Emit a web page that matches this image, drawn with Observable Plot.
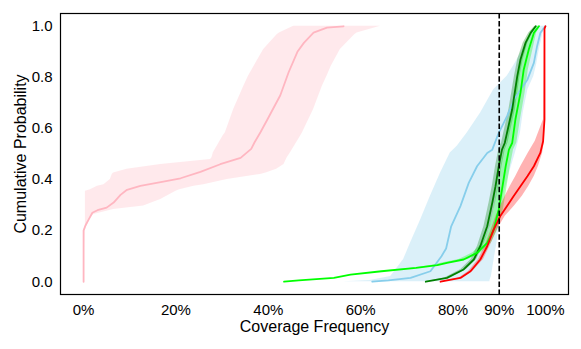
<!DOCTYPE html>
<html>
<head>
<meta charset="utf-8">
<script src="https://cdn.jsdelivr.net/npm/d3@7"></script>
<script src="https://cdn.jsdelivr.net/npm/@observablehq/plot@0.6"></script>
<style>
  html, body { margin: 0; padding: 0; background: #fff; }
  #chart svg { font-family: "Liberation Sans", Arial, sans-serif; }
</style>
</head>
<body>
<div id="chart"></div>
<script>
// ---- Data ----
// Each curve is an empirical CDF: coverage frequency (%) at cumulative probability levels.
const xTicks = [0, 20, 40, 60, 80, 90, 100];
const yTicks = [0, 0.2, 0.4, 0.6, 0.8, 1.0];
const threshold = 90;

// Pink (mean line)
const pinkY = [0, 0.2, 0.22, 0.24, 0.27, 0.28, 0.29, 0.31, 0.34, 0.36, 0.375, 0.39, 0.405, 0.43, 0.46, 0.485, 0.52, 0.545, 0.585, 0.635, 0.73, 0.82, 0.90, 0.935, 0.975, 0.995, 1.0];
const pinkX = [0, 0, 0.4, 1.0, 1.9, 3.0, 5.0, 6.5, 8.0, 9.4, 12.3, 16.7, 21, 25.3, 29.6, 34, 36.3, 37.0, 38.3, 39.8, 42.6, 44.4, 46.3, 47.7, 49.8, 52.7, 56.3];
// Pink band
const pinkBandY  = [0, 0.2, 0.22, 0.25, 0.263, 0.283, 0.296, 0.322, 0.354, 0.36, 0.374, 0.38, 0.40, 0.42, 0.426, 0.44, 0.459, 0.478, 0.485, 0.505, 0.57, 0.583, 0.674, 0.765, 0.804, 0.843, 0.909, 0.967, 0.974, 1.0];
const pinkBandLo = [0, 0, 0.4, 0.4, 0.4, 0.4, 0.4, 0.4, 0.4, 1.5, 3.0, 4.4, 5.8, 6.2, 6.5, 9.4, 16.7, 27.5, 27.8, 28.1, 30.2, 30.7, 32.5, 34.7, 35.7, 36.9, 39.0, 41.9, 42.4, 45.5];
const pinkBandHi = [0, 0.3, 0.8, 1.5, 2.2, 6.5, 13, 16.7, 20, 20.8, 23.9, 26, 31.1, 38.3, 39.5, 41.8, 43.4, 43.9, 44.1, 44.8, 47.0, 47.4, 49.8, 51.7, 52.7, 53.6, 55.6, 58.7, 59.2, 64.3];

// Sky blue
const blueY = [0, 0.005, 0.015, 0.041, 0.10, 0.13, 0.217, 0.296, 0.387, 0.452, 0.504, 0.517, 0.583, 0.648, 0.713, 0.752, 0.791, 0.857, 0.922, 0.974, 0.994, 1.0];
const blueX = [62.5, 66, 70.8, 75.1, 77.5, 78.5, 79.6, 81.6, 83.4, 85.2, 87.4, 88.5, 89.9, 91.7, 93.2, 94.6, 96.1, 97.5, 98.2, 98.9, 99.7, 100];
const blueBandY  = [0, 0.005, 0.02, 0.087, 0.152, 0.243, 0.335, 0.426, 0.504, 0.53, 0.583, 0.661, 0.752, 0.804, 0.85, 0.9, 0.95, 1.0];
const blueBandLo = [56.3, 62, 66.5, 69.3, 70.8, 73.0, 75.1, 77.3, 79.4, 80.9, 83.1, 86, 88.8, 91.7, 93.3, 94.8, 96.3, 98];
const blueBandHi = [88, 88, 88.3, 88.9, 89.5, 90.1, 90.9, 92.2, 93.5, 93.9, 94.6, 95.2, 96.2, 97.5, 98.1, 98.6, 99.2, 99.8];

// Dark green
const dgreenY = [0, 0.015, 0.048, 0.087, 0.139, 0.217, 0.309, 0.374, 0.452, 0.517, 0.543, 0.674, 0.804, 0.87, 0.935, 0.974, 1.0];
const dgreenX = [74.1, 78.7, 82.3, 84.5, 85.9, 87.4, 88.5, 89.2, 89.9, 90.6, 91.2, 92.8, 93.9, 94.6, 95.7, 96.8, 97.9];
const dgreenBandLo = [74.1, 78.2, 81.7, 83.9, 85.3, 86.7, 87.8, 88.5, 89.2, 89.9, 90.5, 92.1, 93.3, 94.0, 95.2, 96.4, 97.7];
const dgreenBandHi = [74.1, 79.2, 82.9, 85.1, 86.5, 88.1, 89.2, 89.9, 90.6, 91.3, 91.9, 93.5, 94.5, 95.2, 96.2, 97.2, 98.1];

// Lime
const limeY = [0, 0.005, 0.015, 0.028, 0.041, 0.054, 0.065, 0.074, 0.087, 0.113, 0.152, 0.204, 0.283, 0.361, 0.452, 0.517, 0.543, 0.635, 0.739, 0.83, 0.909, 0.974, 1.0];
const limeX = [43.4, 46.6, 54.2, 57.8, 64.5, 72, 76.6, 78.7, 82.3, 85.2, 87.4, 88.8, 89.9, 90.6, 91.4, 92.1, 92.8, 93.5, 94.6, 95.3, 96.4, 97.5, 98.6];
const limeBandLo = [43.4, 46.6, 54.2, 57.8, 64.5, 71.5, 75.8, 77.8, 81.3, 84.3, 86.5, 87.9, 88.9, 89.6, 90.4, 91.1, 91.7, 92.4, 93.4, 94.2, 95.4, 96.8, 98.2];
const limeBandHi = [43.4, 46.6, 54.2, 57.8, 64.5, 72.5, 77.4, 79.6, 83.3, 86.1, 88.3, 89.7, 90.9, 91.6, 92.4, 93.1, 93.8, 94.6, 95.6, 96.3, 97.3, 98.1, 98.9];

// Red
const redY = [0, 0.015, 0.041, 0.087, 0.139, 0.204, 0.256, 0.296, 0.335, 0.374, 0.413, 0.452, 0.504, 0.55, 0.635, 0.99, 1.0];
const redX = [77.3, 81.6, 83.8, 85.9, 87.4, 88.8, 90.2, 91.7, 93.1, 94.6, 96.1, 97.5, 98.9, 99.5, 99.8, 99.8, 100];
const redBandLo = [77.3, 81.3, 83.4, 85.5, 86.9, 88.3, 89.3, 90.3, 91.3, 92.4, 93.6, 94.7, 96.3, 97.8, 99.6, 99.8, 100];
const redBandHi = [77.3, 82.0, 84.3, 86.6, 88.0, 89.6, 91.3, 93.3, 95.0, 96.4, 97.6, 98.5, 99.4, 99.8, 99.8, 99.8, 100];

// ---- Build tables ----
const pts = (xs, ys) => xs.map((x, i) => ({x, y: ys[i]}));
const band = (ys, lo, hi) => ys.map((y, i) => ({y, x1: lo[i], x2: hi[i]}));

const chart = Plot.plot({
  width: 581,
  height: 349,
  marginLeft: 60,
  marginRight: 13,
  marginTop: 13,
  marginBottom: 55,
  style: {fontFamily: "'Liberation Sans', Arial, sans-serif", background: "#fff", color: "#000"},
  x: {domain: [-5, 105]},
  y: {domain: [-0.05, 1.05]},
  marks: [
    Plot.areaX(band(pinkBandY, pinkBandLo, pinkBandHi), {y: "y", x1: "x1", x2: "x2", fill: "#ffb6c1", fillOpacity: 0.3}),
    Plot.areaX(band(blueBandY, blueBandLo, blueBandHi), {y: "y", x1: "x1", x2: "x2", fill: "#87ceeb", fillOpacity: 0.3}),
    Plot.areaX(band(dgreenY, dgreenBandLo, dgreenBandHi), {y: "y", x1: "x1", x2: "x2", fill: "#008000", fillOpacity: 0.3}),
    Plot.areaX(band(limeY, limeBandLo, limeBandHi), {y: "y", x1: "x1", x2: "x2", fill: "#00ff00", fillOpacity: 0.3}),
    Plot.areaX(band(redY, redBandLo, redBandHi), {y: "y", x1: "x1", x2: "x2", fill: "#ff0000", fillOpacity: 0.3}),
    Plot.line(pts(pinkX, pinkY), {x: "x", y: "y", stroke: "#ffb6c1", strokeWidth: 1.8}),
    Plot.line(pts(blueX, blueY), {x: "x", y: "y", stroke: "#87ceeb", strokeWidth: 1.8}),
    Plot.line(pts(dgreenX, dgreenY), {x: "x", y: "y", stroke: "#008000", strokeWidth: 1.8}),
    Plot.line(pts(limeX, limeY), {x: "x", y: "y", stroke: "#00ff00", strokeWidth: 1.8}),
    Plot.line(pts(redX, redY), {x: "x", y: "y", stroke: "#ff0000", strokeWidth: 1.8}),
    Plot.ruleX([threshold], {stroke: "#000", strokeWidth: 1.6, strokeDasharray: "5.5,2.4"}),
    Plot.frame({stroke: "#000", strokeWidth: 1.2}),
    Plot.axisX({ticks: xTicks, tickFormat: d => d + "%", tickSize: 0, tickPadding: 10, fontSize: 15, label: null, fill: "#000"}),
    Plot.axisY({ticks: yTicks, tickFormat: d3.format(".1f"), tickSize: 0, tickPadding: 8, fontSize: 15, label: null, fill: "#000"}),
    Plot.text(["Coverage Frequency"], {frameAnchor: "bottom", dy: 32, lineAnchor: "middle", fontSize: 16, fill: "#000"}),
    Plot.text(["Cumulative Probability"], {frameAnchor: "left", dx: -40, rotate: -90, textAnchor: "middle", lineAnchor: "middle", fontSize: 16, fill: "#000"})
  ]
});
document.getElementById("chart").appendChild(chart);
</script>
</body>
</html>
